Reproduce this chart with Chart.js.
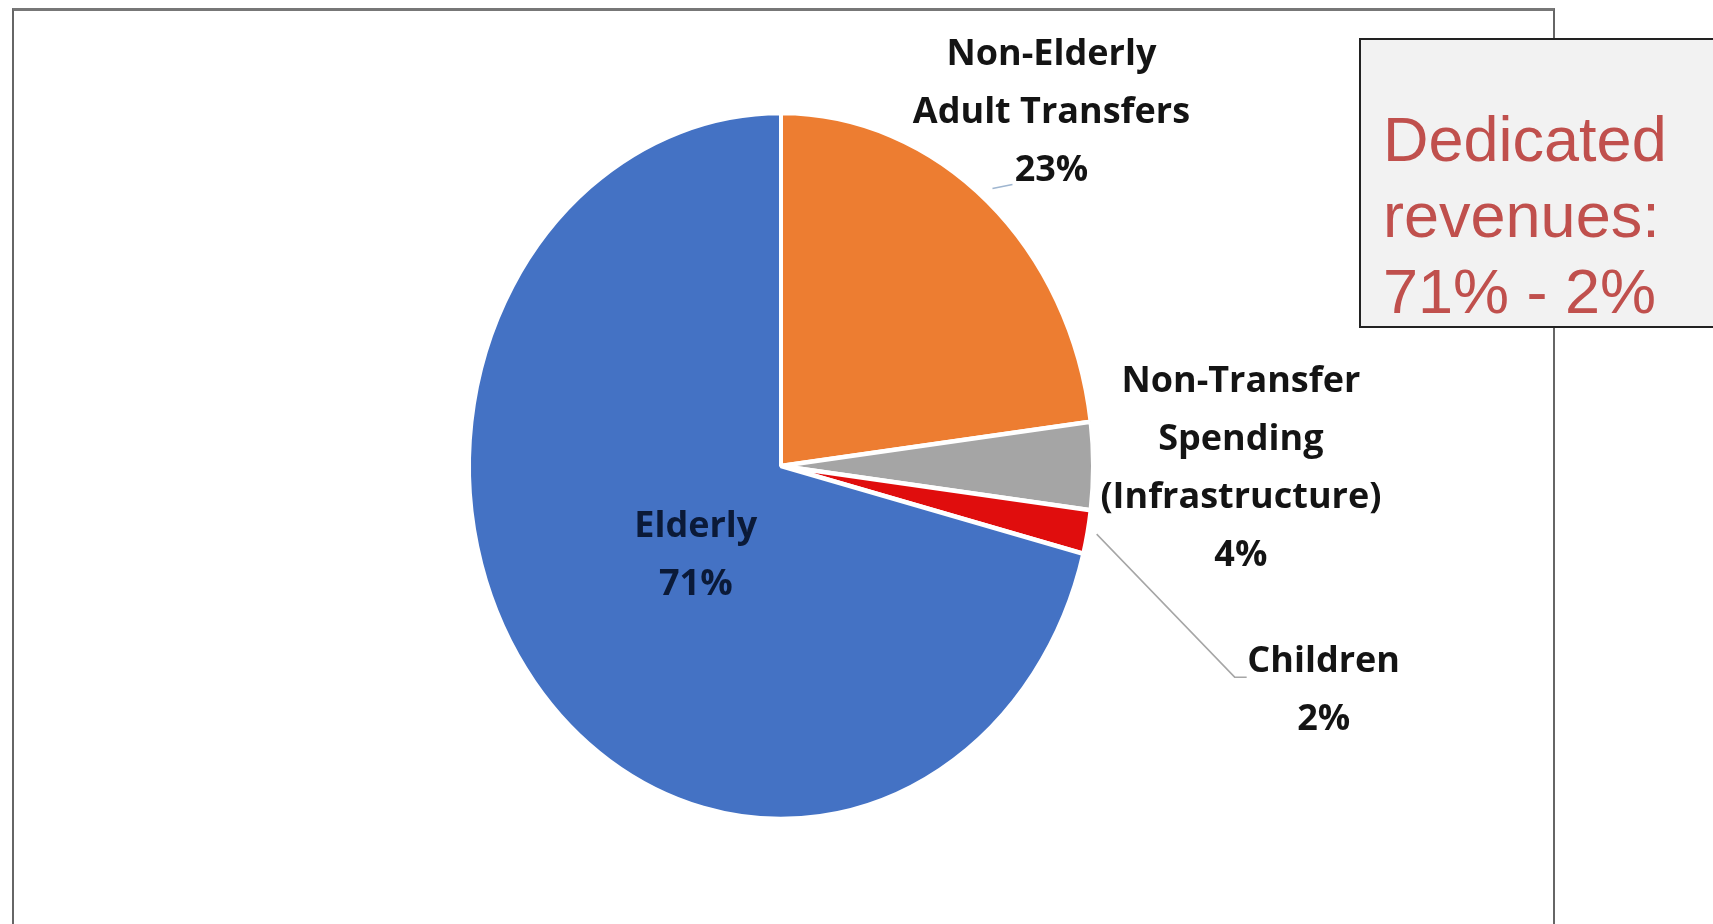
<!DOCTYPE html>
<html>
<head>
<meta charset="utf-8">
<script src="https://cdn.jsdelivr.net/npm/chart.js@4.4.0/dist/chart.umd.min.js"></script>
<style>
    html, body { margin: 0; padding: 0; background: #fff; overflow: hidden; }
    #frame {
        position: absolute; left: 12px; top: 8px; width: 1539px; height: 940px;
        border-left: 2px solid #666; border-right: 2px solid #666; border-top: 3px solid #777;
    }
    #chart { position: absolute; left: 0; top: 0; }
    #note {
        position: absolute; left: 1359px; top: 38px; width: 400px; height: 290px;
        background: #f2f2f2; border: 2px solid #222;
        font-family: "Liberation Sans", Arial, sans-serif; font-size: 63px; line-height: 76px;
        color: #c0504d; padding: 61px 0 0 22px; box-sizing: border-box;
    }
</style>
</head>
<body>
<div id="frame"></div>
<canvas id="chart" width="1713" height="924"></canvas>
<div id="note">Dedicated<br>revenues:<br>71% - 2%</div>
<script>
(function () {
    "use strict";

    // data, clockwise from 12 o'clock
    const categories = ["Non-Elderly Adult Transfers", "Non-Transfer Spending (Infrastructure)", "Children", "Elderly"];
    const labelLines = [
        ["Non-Elderly", "Adult Transfers"],
        ["Non-Transfer", "Spending", "(Infrastructure)"],
        ["Children"],
        ["Elderly"],
    ];
    const shares = [23, 4, 2, 71];
    const colors = ["#ed7d31", "#a5a5a5", "#e00d0d", "#4472c4"];

    // pie is stretched vertically in the original
    const RY = 353;

    const stretch = {
        id: "stretch",
        beforeDatasetsDraw(chart) {
            const arc = chart.getDatasetMeta(0).data[0];
            const k = RY / arc.outerRadius;
            const ctx = chart.ctx;
            ctx.save();
            ctx.translate(arc.x, arc.y);
            ctx.scale(1, k);
            ctx.translate(-arc.x, -arc.y);
        },
        afterDatasetsDraw(chart) {
            chart.ctx.restore();
        },
    };

    // label placement: radial factor + pixel nudge
    const place = [
        { f: 1.335, dx: -5, dy: 0, lead: [[-64, 76], [-44, 72]], color: "#9fb6d0" },
        { f: 1.49, dx: -5, dy: 3 },
        { f: 1.03, dx: 227, dy: 157, lead: [[0, 0], [138, 143], [150, 143]], color: "#a6a6a6" },
        { f: 0.37, dx: 6, dy: 10, text: "#0b1a38" },
    ];

    const labels = {
        id: "labels",
        afterDraw(chart) {
            const ctx = chart.ctx;
            const arcs = chart.getDatasetMeta(0).data;
            const k = RY / arcs[0].outerRadius;
            ctx.save();
            ctx.font = "bold 36px 'Open Sans', sans-serif";
            ctx.textAlign = "center";
            ctx.textBaseline = "middle";
            arcs.forEach(function (arc, i) {
                const p = place[i];
                const mid = (arc.startAngle + arc.endAngle) / 2;
                const ex = arc.x + Math.cos(mid) * arc.outerRadius * p.f;
                const ey = arc.y + Math.sin(mid) * arc.outerRadius * p.f * k;
                if (p.lead) {
                    ctx.strokeStyle = p.color;
                    ctx.lineWidth = 1.5;
                    ctx.beginPath();
                    p.lead.forEach(function (pt, j) {
                        if (j === 0) ctx.moveTo(ex + pt[0], ey + pt[1]);
                        else ctx.lineTo(ex + pt[0], ey + pt[1]);
                    });
                    ctx.stroke();
                }
                const lines = labelLines[i].concat([shares[i] + "%"]);
                const lh = 58;
                const cx = ex + p.dx;
                const cy = ey + p.dy - (lines.length - 1) * lh / 2;
                ctx.fillStyle = p.text || "#141414";
                lines.forEach(function (t, j) {
                    ctx.fillText(t, cx, cy + j * lh);
                });
            });
            ctx.restore();
        },
    };

    new Chart(document.getElementById("chart").getContext("2d"), {
        type: "pie",
        data: {
            labels: categories,
            datasets: [
                {
                    data: shares,
                    backgroundColor: colors,
                    borderColor: "#ffffff",
                    borderWidth: 4,
                },
            ],
        },
        options: {
            responsive: false,
            animation: false,
            layout: {
                padding: { left: 467, right: 618, top: 152, bottom: 144 },
            },
            plugins: {
                legend: { display: false },
                tooltip: { enabled: false },
            },
        },
        plugins: [stretch, labels],
    });
})();
</script>
</body>
</html>
